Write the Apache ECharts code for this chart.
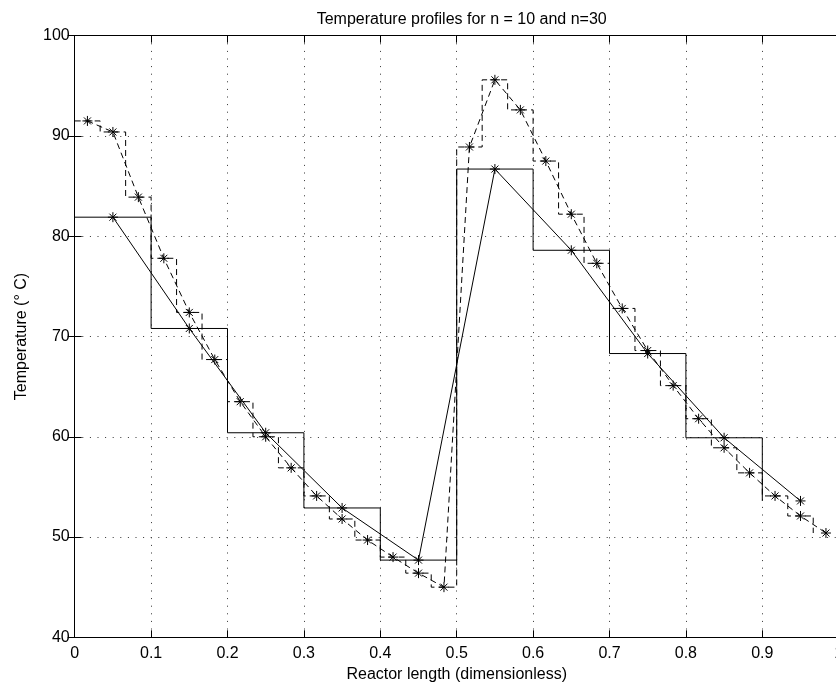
<!DOCTYPE html>
<html>
<head>
<meta charset="utf-8">
<script src="https://cdn.jsdelivr.net/npm/echarts@6/dist/echarts.min.js"></script>
<style>
html,body{margin:0;padding:0;background:#fff;}
#chart{width:836px;height:684px;}
</style>
</head>
<body>
<div id="chart"></div>
<script>
// ---- data ----
const titleText = 'Temperature profiles for n = 10 and n=30';
const xAxisTitle = 'Reactor length (dimensionless)';
const yAxisTitle = 'Temperature (\u00b0 C)';
const xTicks = [0, 0.1, 0.2, 0.3, 0.4, 0.5, 0.6, 0.7, 0.8, 0.9, 1];
const yTicks = [40, 50, 60, 70, 80, 90, 100];
// n = 10 cell values (cell i spans [i/10,(i+1)/10], marker at centre)
const n10Values = [81.9, 70.8, 60.4, 52.9, 47.7, 86.7, 78.6, 68.3, 59.9, 53.6];
// n = 30 cell values
const n30Values = [91.5, 90.4, 83.9, 77.8, 72.4, 67.7, 63.5, 60.0, 56.9, 54.1,
                   51.8, 49.7, 48.0, 46.4, 45.0, 88.9, 95.6, 92.6, 87.5, 82.2,
                   77.3, 72.8, 68.6, 65.1, 61.8, 58.9, 56.4, 54.1, 52.1, 50.4];

// ---- build series data ----
function stairs(vals){ const n = vals.length; return vals.map((v,i)=>[i/n, v]); }
function centres(vals){ const n = vals.length; return vals.map((v,i)=>[(i+0.5)/n, v]); }

const FONT = "'Liberation Sans', Arial, Helvetica, sans-serif";
const star = 'path://M0,-10L0,10M-10,0L10,0M-7,-7L7,7M-7,7L7,-7';
const dash = [6, 4];

const chart = echarts.init(document.getElementById('chart'), null, {renderer:'canvas'});
const gridLine = {show:true, lineStyle:{color:'#333', width:1, type:[1,6.6]}};
const tick = {show:true, inside:true, length:7, lineStyle:{color:'#000', width:1}};
const axLine = {show:true, lineStyle:{color:'#000', width:1}};

const option = {
  animation:false,
  backgroundColor:'#fff',
  textStyle:{fontFamily:FONT},
  title:{
    text:titleText, left:456.7, top:7, textAlign:'center',
    textStyle:{fontFamily:FONT, fontSize:16, fontWeight:'normal', color:'#000'}
  },
  grid:{left:74.7, top:35.7, width:764, height:601.6, containLabel:false, outerBoundsMode:'none'},
  xAxis:[{
    type:'value', min:0, max:1, interval:0.1, position:'bottom',
    name:xAxisTitle, nameLocation:'middle', nameGap:24,
    nameTextStyle:{fontFamily:FONT, fontSize:16, color:'#000'},
    axisLine:axLine, axisTick:tick, splitLine:gridLine,
    axisLabel:{fontFamily:FONT, fontSize:16, color:'#000', margin:8, hideOverlap:false,
      formatter:v=>{ const t = xTicks.find(k=>Math.abs(k-v)<1e-9); return t===undefined?'':String(t); }}
  },{
    type:'value', min:0, max:1, interval:0.1, position:'top',
    axisLine:axLine, axisTick:tick, splitLine:{show:false}, axisLabel:{show:false}
  }],
  yAxis:[{
    type:'value', min:40, max:100, interval:10, position:'left',
    name:yAxisTitle, nameLocation:'middle', nameGap:45,
    nameTextStyle:{fontFamily:FONT, fontSize:16, color:'#000'},
    axisLine:axLine, axisTick:tick, splitLine:gridLine,
    axisLabel:{fontFamily:FONT, fontSize:16, color:'#000', margin:5,
      formatter:v=>{ const t = yTicks.find(k=>Math.abs(k-v)<1e-9); return t===undefined?'':String(t); }}
  },{
    type:'value', min:40, max:100, interval:10, position:'right',
    axisLine:axLine, axisTick:tick, splitLine:{show:false}, axisLabel:{show:false}
  }],
  series:[
    {type:'line', name:'n10 stairs', data:stairs(n10Values), step:'end',
     showSymbol:false, symbol:'none', lineStyle:{color:'#000', width:1}},
    {type:'line', name:'n10 centres', data:centres(n10Values),
     symbol:star, symbolSize:10, showSymbol:true,
     itemStyle:{color:'transparent', borderColor:'#000', borderWidth:1},
     lineStyle:{color:'#000', width:1}},
    {type:'line', name:'n30 stairs', data:stairs(n30Values), step:'end',
     showSymbol:false, symbol:'none', lineStyle:{color:'#000', width:1, type:dash}},
    {type:'line', name:'n30 centres', data:centres(n30Values),
     symbol:star, symbolSize:10, showSymbol:true,
     itemStyle:{color:'transparent', borderColor:'#000', borderWidth:1},
     lineStyle:{color:'#000', width:1, type:dash}}
  ]
};
chart.setOption(option);
</script>
</body>
</html>
